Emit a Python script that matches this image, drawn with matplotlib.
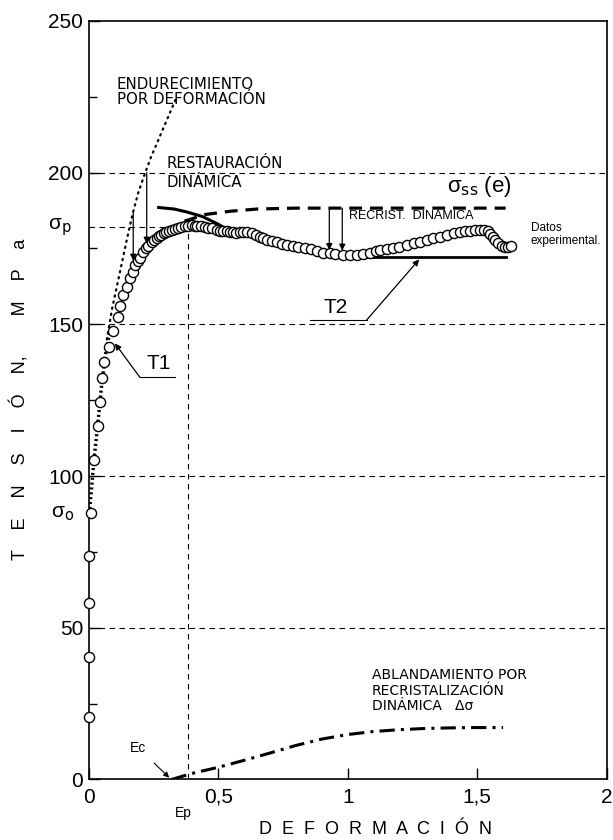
import numpy as np
import matplotlib.pyplot as plt
from matplotlib.ticker import MultipleLocator

plt.rcParams['font.family'] = ['Liberation Sans', 'DejaVu Sans']

# experimental points (deformation, stress in MPa)
exp_def = [0, 0, 0, 0, 0.008, 0.022, 0.037, 0.044, 0.053, 0.06, 0.078, 0.094, 0.114, 0.12,
           0.133, 0.146, 0.16, 0.17, 0.18, 0.19, 0.198, 0.21, 0.22, 0.23, 0.243, 0.252, 0.262,
           0.272, 0.281, 0.29, 0.3, 0.31, 0.32, 0.333, 0.345, 0.357, 0.37, 0.383, 0.397, 0.41,
           0.42, 0.435, 0.449, 0.462, 0.475, 0.494, 0.507, 0.52, 0.533, 0.546, 0.558, 0.57,
           0.585, 0.597, 0.613, 0.63, 0.645, 0.66, 0.674, 0.69, 0.708, 0.726, 0.745, 0.764,
           0.787, 0.81, 0.835, 0.86, 0.883, 0.906, 0.93, 0.95, 0.98, 1.01, 1.035, 1.06, 1.085,
           1.11, 1.125, 1.15, 1.176, 1.2, 1.228, 1.255, 1.28, 1.305, 1.33, 1.355, 1.382, 1.41,
           1.434, 1.452, 1.472, 1.49, 1.51, 1.527, 1.54, 1.55, 1.56, 1.57, 1.58, 1.595, 1.606,
           1.62, 1.63]
exp_sig = [20.5, 40.3, 58.1, 73.6, 87.8, 105.3, 116.5, 124.5, 132.2, 137.7, 142.6, 147.9, 152.5,
           156, 159.6, 162.4, 165.2, 167.3, 169.4, 171, 171.8, 173.9, 175, 175.8, 177.2, 177.8,
           178.3, 179, 179.4, 180, 180.5, 180.8, 181, 181.3, 181.6, 182, 182.4, 182.5, 182.6,
           182.5, 182.5, 182.3, 182.2, 181.9, 181.6, 181, 180.9, 180.8, 180.6, 180.5, 180.3,
           180.2, 180.4, 180.5, 180.3, 180.2, 179.5, 178.8, 178.3, 177.8, 177.5, 177.2, 176.6,
           176.1, 175.8, 175.6, 175.1, 174.7, 174.1, 173.6, 173.4, 173.2, 173, 172.8, 173, 173.2,
           173.6, 174.2, 174.5, 174.7, 175, 175.6, 176.1, 176.7, 177.2, 177.8, 178.3, 178.9,
           179.4, 180, 180.5, 180.7, 180.8, 181, 181, 181.2, 180.8, 179.8, 178.9, 177.8, 176.7,
           175.7, 175.4, 175.6, 175.8]

# strain hardening (dotted)
hard_def = [0.07, 0.09, 0.11, 0.13, 0.15, 0.17, 0.19, 0.21, 0.24, 0.27, 0.30, 0.335]
hard_sig = [145, 155, 163, 171, 179, 186.5, 193, 198, 205, 211, 217, 224]

# T1 initial slope
t1_def = [0.0, 0.01, 0.02, 0.035, 0.05, 0.065, 0.08]
t1_sig = [86, 95, 105, 117, 130, 140, 147]

# dynamic recovery (solid)
rec_def = [0.27, 0.33, 0.38, 0.44, 0.5, 0.54, 0.58]
rec_sig = [188.5, 188, 187, 185.5, 183, 181, 179.3]

# sigma_ss(e) (dashed)
ss_def = [0.37, 0.45, 0.55, 0.65, 0.8, 1.0, 1.2, 1.4, 1.61]
ss_sig = [184, 186.2, 187.3, 188, 188.3, 188.3, 188.3, 188.3, 188.3]

# T2 (steady state)
t2_def = [1.0, 1.61]
t2_sig = [172.3, 172.3]

# softening by dynamic recrystallization (dash-dot)
soft_def = [0.32, 0.4, 0.5, 0.6, 0.7, 0.8, 0.9, 1.0, 1.1, 1.2, 1.3, 1.4, 1.5, 1.6]
soft_sig = [0, 2, 4, 6.3, 8.7, 11.2, 13.3, 14.8, 15.8, 16.4, 16.8, 17, 17.1, 17.1]

eps_p = 0.385
sig_p = 182.2
sig_0 = 87.8

fig = plt.figure(figsize=(6.13, 8.4), dpi=100)
ax = fig.add_axes([0.1447, 0.0721, 0.845, 0.903])
ax.set_xlim(0, 2)
ax.set_ylim(0, 250)

for y in [50, 100, 150, 200]:
    ax.plot([0, 2], [y, y], color='black', lw=0.8, dashes=(5, 4), zorder=1)
ax.plot([0, eps_p], [sig_p, sig_p], color='black', lw=0.8, dashes=(5, 4), zorder=1)
ax.plot([eps_p, eps_p], [0, sig_p], color='black', lw=0.8, dashes=(5, 4), zorder=1)

ax.plot(hard_def, hard_sig, color='black', lw=1.6, linestyle=(0, (0.6, 2.2)), dash_capstyle='round', zorder=2)
ax.plot(t1_def, t1_sig, color='black', lw=2.5, linestyle=(0, (0.6, 0.8)), zorder=2)
ax.plot(rec_def, rec_sig, color='black', lw=2.2, zorder=2)
ax.plot(ss_def, ss_sig, color='black', lw=2.3, dashes=(4, 2.5), zorder=2)
ax.plot(t2_def, t2_sig, color='black', lw=2, zorder=2)
ax.plot(soft_def, soft_sig, color='black', lw=2.2, dashes=(5, 2, 1, 2), zorder=2)

ax.plot(exp_def, exp_sig, linestyle='none', marker='o', markersize=7.3, markerfacecolor='white',
        markeredgecolor='black', markeredgewidth=1, zorder=3, clip_on=False)

arw = dict(arrowstyle='-|>', color='black', lw=0.9, mutation_scale=9, shrinkA=0, shrinkB=0)
ax.annotate('', xy=(0.172, 171), xytext=(0.172, 187), arrowprops=arw, zorder=4)
ax.annotate('', xy=(0.224, 176.6), xytext=(0.224, 200), arrowprops=arw, zorder=4)
ax.annotate('', xy=(0.929, 174.5), xytext=(0.929, 188.3), arrowprops=arw, zorder=4)
ax.annotate('', xy=(0.979, 174.3), xytext=(0.979, 188.3), arrowprops=arw, zorder=4)

# T1 and T2 leaders
ax.plot([0.198, 0.333], [132.5, 132.5], color='black', lw=0.8)
ax.annotate('', xy=(0.1015, 143.7), xytext=(0.198, 132.5), arrowprops=arw)
ax.text(0.224, 134, 'T1', fontsize=15, ha='left', va='bottom')
ax.plot([0.855, 1.073], [151.4, 151.4], color='black', lw=0.8)
ax.annotate('', xy=(1.276, 171.4), xytext=(1.073, 151.4), arrowprops=arw)
ax.text(0.905, 152.5, 'T2', fontsize=15, ha='left', va='bottom')

ax.annotate('Ec', xy=(0.311, 0.6), xytext=(0.19, 10.5), fontsize=10, ha='center', va='center',
            arrowprops=dict(arrowstyle='-|>', color='black', lw=0.8, mutation_scale=8,
                            shrinkA=6, shrinkB=0))
ax.text(0.364, -11.1, 'Ep', fontsize=10, ha='center', va='center', clip_on=False)

ax.text(0.108, 226.5, 'ENDURECIMIENTO\nPOR DEFORMACIÓN', fontsize=10.8, ha='left', va='center',
        family='DejaVu Sans', linespacing=1.0)
ax.text(0.301, 199.8, 'RESTAURACIÓN\nDINÁMICA', fontsize=10.8, ha='left', va='center',
        family='DejaVu Sans', linespacing=1.3)
ax.text(1.382, 195.4, 'σ$_\\mathrm{ss}$ (e)', fontsize=16, ha='left', va='center')
ax.text(1.006, 185.7, 'RECRIST.  DINÁMICA', fontsize=9, ha='left', va='center')
ax.text(1.706, 179.6, 'Datos\nexperimental.', fontsize=8.5, ha='left', va='center')
ax.text(1.093, 29.3, 'ABLANDAMIENTO POR\nRECRISTALIZACIÓN\nDINÁMICA   Δσ', fontsize=10,
        family='DejaVu Sans', ha='left', va='center', linespacing=1.15)

ax.text(-0.11, sig_p, 'σ$_\\mathrm{p}$', fontsize=15, ha='center', va='center', clip_on=False)
ax.text(-0.1, sig_0, 'σ$_\\mathrm{o}$', fontsize=15, ha='center', va='center', clip_on=False)

ax.set_xticks([0, 0.5, 1, 1.5, 2])
ax.set_xticklabels(['0', '0,5', '1', '1,5', '2'])
ax.set_yticks([0, 50, 100, 150, 200, 250])
ax.yaxis.set_minor_locator(MultipleLocator(25))
ax.tick_params(direction='in', labelsize=15, length=8, width=1)
ax.tick_params(axis='y', which='minor', direction='in', length=6, width=1)
ax.tick_params(axis='x', pad=6)
ax.tick_params(axis='y', pad=4)
for s in ax.spines.values():
    s.set_linewidth(1.2)

fig.text(0.6126, 0.012, 'D  E  F  O  R  M  A  C  I  Ó  N', fontsize=13, ha='center', va='center')
fig.text(0.033, 0.524, 'T    E    N    S    I    Ó    N,        M    P    a', fontsize=13,
         ha='center', va='center', rotation=90)

plt.savefig('out.png', dpi=100)
